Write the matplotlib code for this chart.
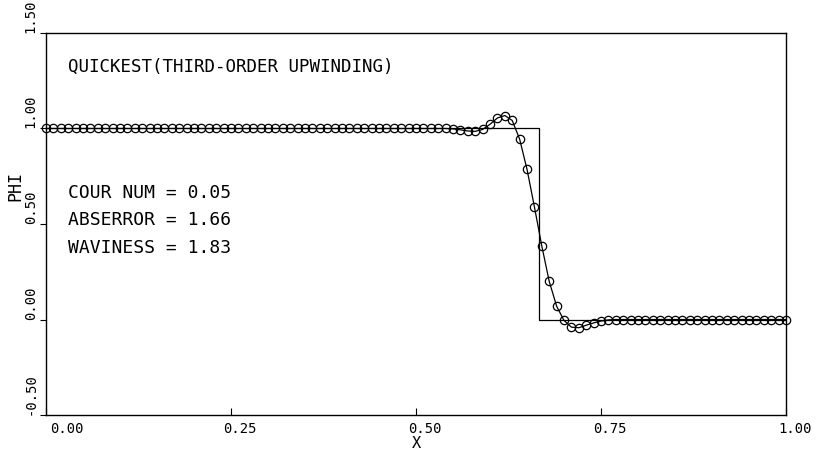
"""
QUICKEST (third-order upwinding) step advection test, redrawn.
"""

import numpy as np
import matplotlib
matplotlib.use("Agg")
import matplotlib.pyplot as plt
import matplotlib.transforms as mtransforms

# Computed profile, one value per grid node (dx = 0.01)
x_nodes = np.linspace(0.0, 1.0, 101)
phi = [
    1.0, 1.0, 1.0, 1.0, 1.0, 1.0, 1.0, 1.0, 1.0, 1.0,
    1.0, 1.0, 1.0, 1.0, 1.0, 1.0, 1.0, 1.0, 1.0, 1.0,
    1.0, 1.0, 1.0, 1.0, 1.0, 1.0, 1.0, 1.0, 1.0, 1.0,
    1.0, 1.0, 1.0, 1.0, 1.0, 1.0, 1.0, 1.0, 1.0, 1.0,
    1.0, 1.0, 1.0, 1.0, 1.0, 1.0, 1.0, 1.0, 1.0, 1.0,
    1.0, 1.0, 1.0, 1.0, 1.0, 0.998, 0.993, 0.987, 0.985, 0.995,
    1.022, 1.055, 1.068, 1.042, 0.945, 0.787, 0.590, 0.385, 0.200, 0.070,
    -0.005, -0.040, -0.043, -0.030, -0.018, -0.008, -0.002, 0.0, 0.0, 0.0,
    0.0, 0.0, 0.0, 0.0, 0.0, 0.0, 0.0, 0.0, 0.0, 0.0,
    0.0, 0.0, 0.0, 0.0, 0.0, 0.0, 0.0, 0.0, 0.0, 0.0,
    0.0,
]

# Exact solution (step)
exact_x = [0.0, 2.0 / 3.0, 2.0 / 3.0, 1.0]
exact_y = [1.0, 1.0, 0.0, 0.0]

x_ticks = [0.0, 0.25, 0.5, 0.75, 1.0]
x_ticklabels = ["0.00", "0.25", "0.50", "0.75", "1.00"]
y_ticks = [-0.5, 0.0, 0.5, 1.0, 1.5]
y_ticklabels = ["-0.50", "0.00", "0.50", "1.00", "1.50"]

title = "QUICKEST(THIRD-ORDER UPWINDING)"
stats = ["COUR NUM = 0.05", "ABSERROR = 1.66", "WAVINESS = 1.83"]

FONT = "DejaVu Sans Mono"

fig = plt.figure(figsize=(8.21, 4.61), dpi=100)
ax = fig.add_axes([46 / 821, 46 / 461, 740 / 821, 382 / 461])

ax.plot(exact_x, exact_y, color="black", linewidth=0.9)
ax.plot(x_nodes, phi, color="black", linewidth=0.9, marker="o",
        markersize=6.0, markerfacecolor="none", markeredgecolor="black",
        markeredgewidth=0.9, clip_on=False)

ax.set_xlim(0, 1)
ax.set_ylim(-0.5, 1.5)

for s in ax.spines.values():
    s.set_linewidth(1.0)

# x tick labels sit a little right of their ticks, as on the old plotter
ax.set_xticks(x_ticks)
ax.set_xticklabels([])
ax.tick_params(axis="x", direction="in", length=5, width=0.8)
label_dx = [21, 9, 9, 9, 9]
for t, lab, dx in zip(x_ticks, x_ticklabels, label_dx):
    tr = mtransforms.offset_copy(ax.get_xaxis_transform(), fig=fig,
                                 x=dx, y=-7, units="dots")
    ax.text(t, 0, lab, transform=tr, family=FONT, fontsize=10,
            ha="center", va="top")

ax.set_yticks(y_ticks)
ax.set_yticklabels(y_ticklabels, family=FONT, fontsize=10)
ax.tick_params(axis="y", direction="out", length=4, width=0.8, pad=2,
               labelrotation=90)
for lab in ax.get_yticklabels():
    lab.set_va("bottom")

ax.set_xlabel("X", family=FONT, fontsize=11)
ax.xaxis.set_label_coords(0.5, -0.055)
ax.set_ylabel("PHI", family=FONT, fontsize=12)
ax.yaxis.set_label_coords(-0.029, 0.6)

ax.text(0.0297, 0.897, title, transform=ax.transAxes, family=FONT,
        fontsize=12.6, ha="left", va="baseline")
for s, yy in zip(stats, [0.568, 0.497, 0.424]):
    ax.text(0.0297, yy, s, transform=ax.transAxes, family=FONT,
            fontsize=13, ha="left", va="baseline")

fig.savefig("out.png", dpi=100, facecolor="white")
